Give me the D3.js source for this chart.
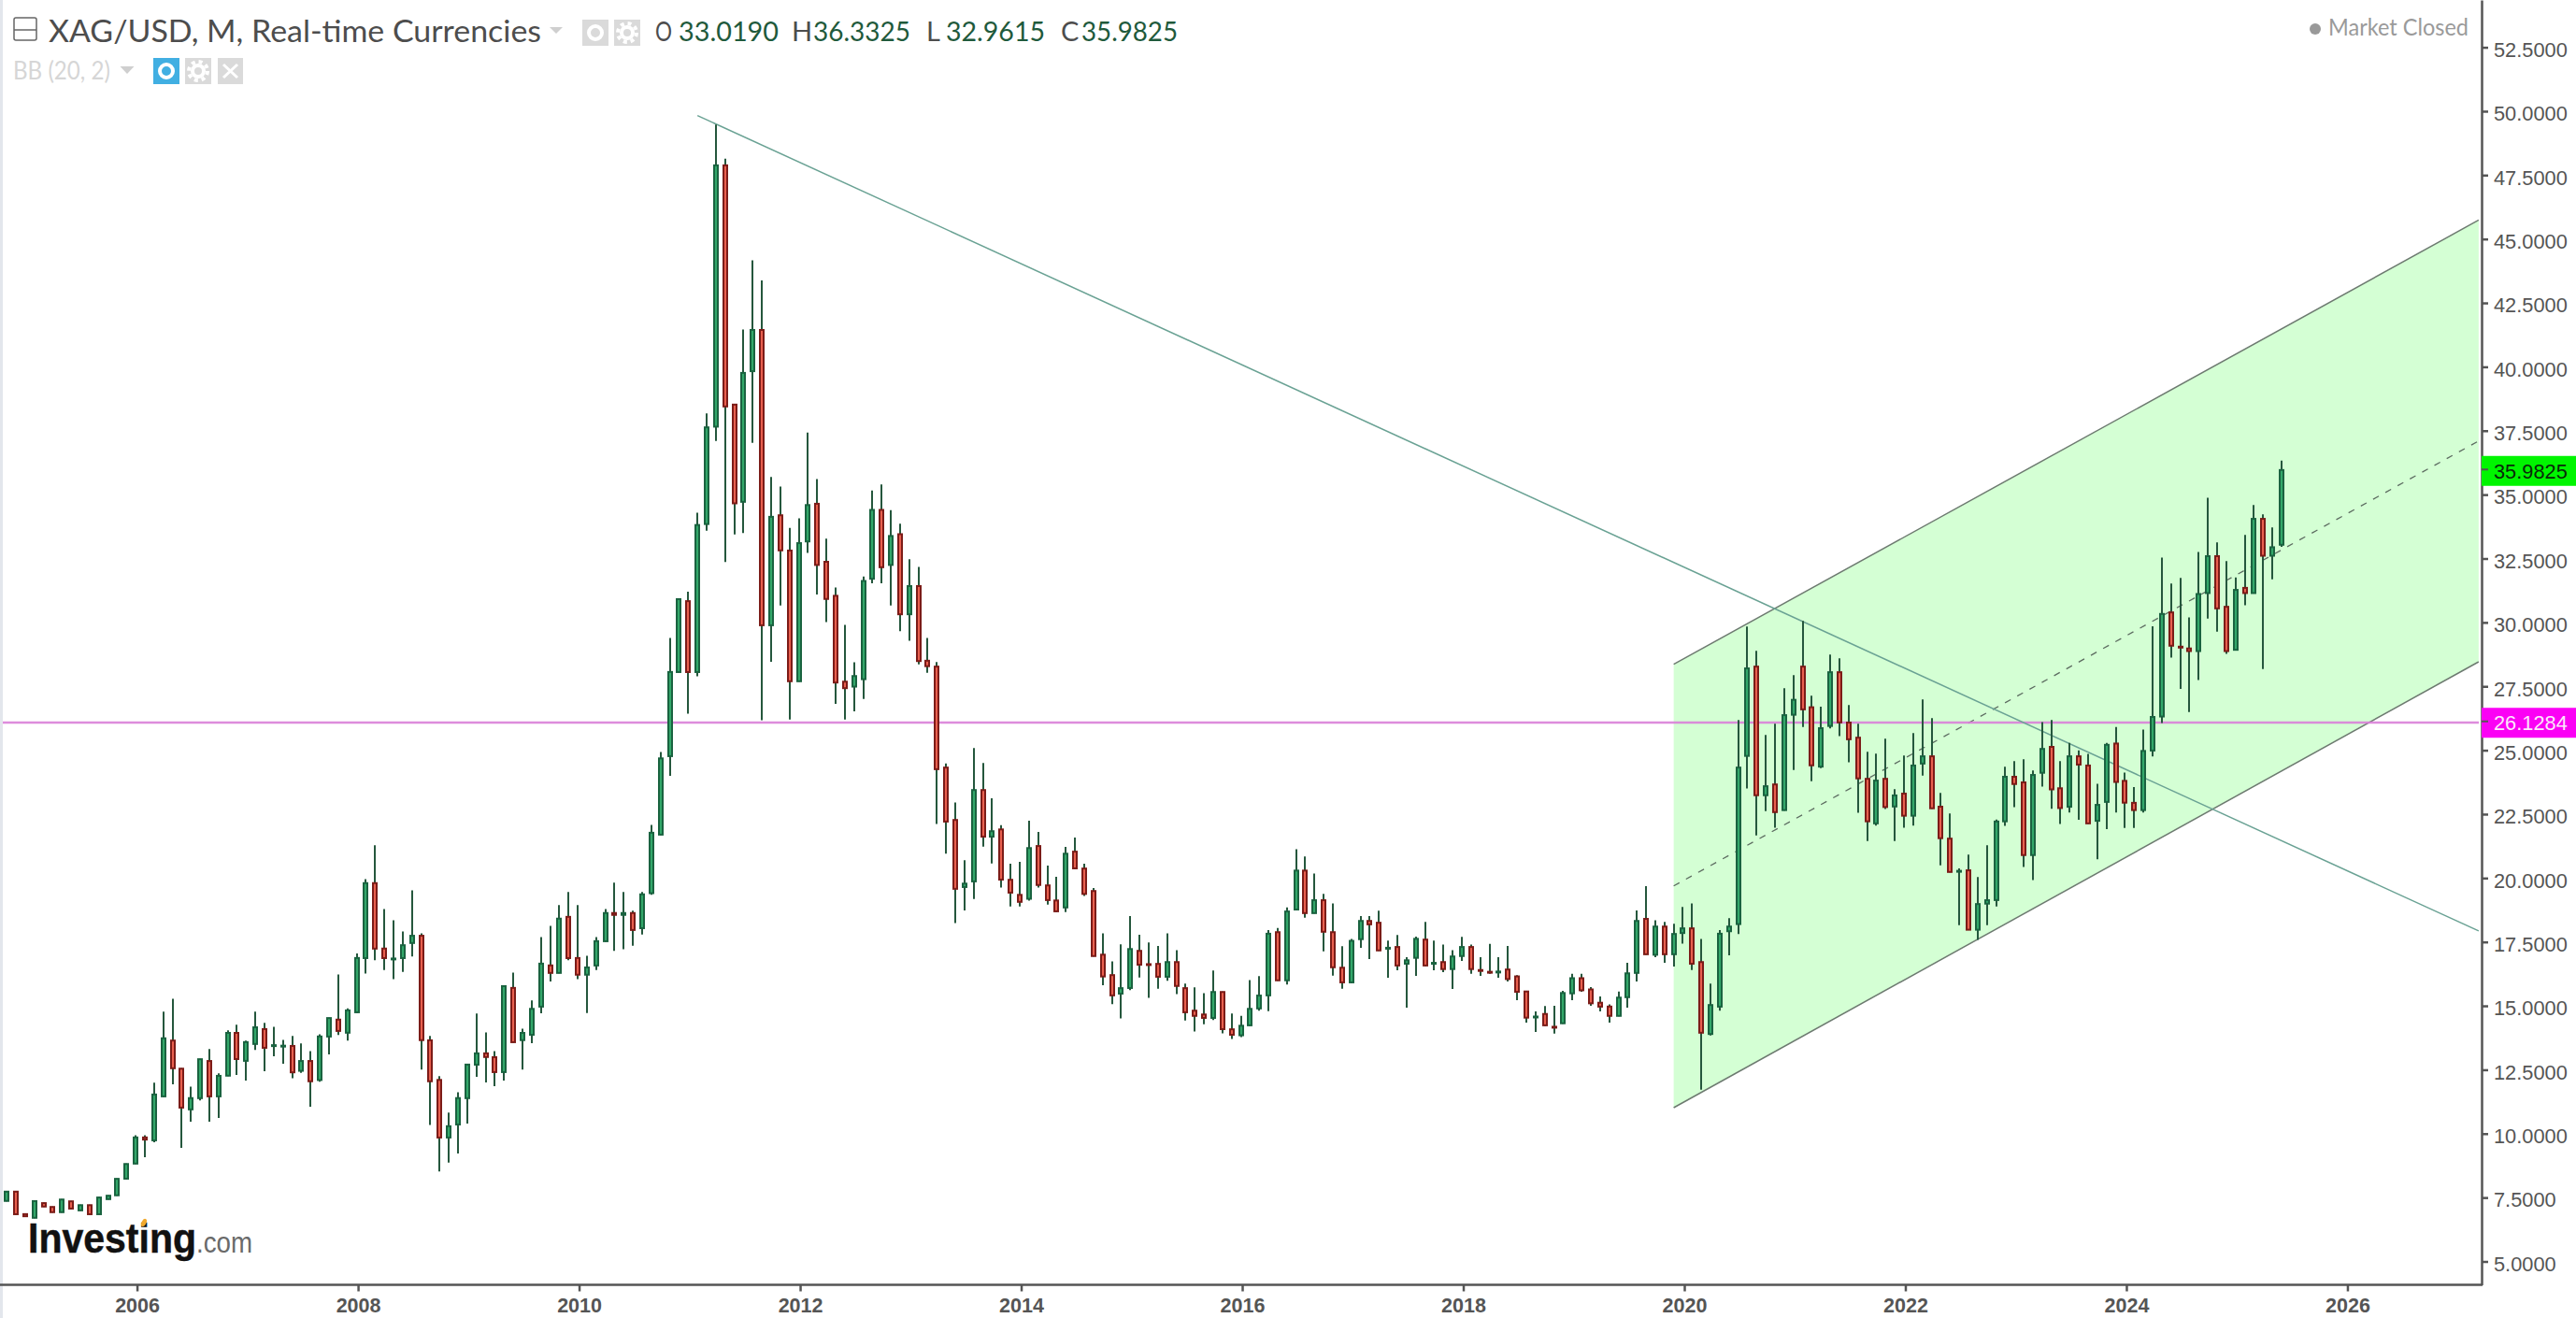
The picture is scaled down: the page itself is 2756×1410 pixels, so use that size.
<!DOCTYPE html>
<html>
<head>
<meta charset="utf-8">
<title>XAG/USD</title>
<script src="https://cdnjs.cloudflare.com/ajax/libs/d3/7.8.5/d3.min.js"></script>
<style>
  html, body { margin: 0; padding: 0; background: #fff; overflow: hidden; }
  svg { display: block; }
</style>
</head>
<body>
<div id="svganchor"></div>
<script>
// monthly candles, first one is Nov 2004. month index 0 = Jan 2006
const firstMonth = -14;

const opens = [
  7.35,7.75,
  6.87,6.69,7.30,7.15,6.91,7.37,6.98,7.22,6.83,7.42,7.57,8.22,
  8.81,9.87,9.72,11.44,13.66,12.56,10.93,11.37,12.86,11.44,12.25,13.96,
  12.83,13.49,14.11,13.43,13.39,13.45,12.44,12.86,12.08,13.78,14.48,13.93,
  14.73,16.85,19.82,17.26,16.85,16.85,17.44,17.76,13.67,12.12,9.83,10.34,
  11.37,12.68,13.16,13.01,12.39,15.72,13.64,13.85,14.95,16.6,16.27,18.5,
  16.89,16.2,16.56,17.51,18.65,18.54,18.65,18.02,19.39,21.68,24.75,28.04,
  30.85,28.04,33.83,37.64,47.9,38.54,34.7,39.81,41.46,29.87,34.21,32.83,
  27.68,33.15,34.66,32.39,31.06,27.7,27.47,27.76,31.69,34.42,32.23,33.47,
  30.3,31.44,28.52,28.29,24.34,22.29,19.63,19.85,23.46,21.6,21.92,19.95,
  19.36,19.17,21.27,19.73,19.14,18.83,21.05,20.39,19.51,17.02,16.22,15.46,
  15.68,17.17,16.65,16.66,16.12,16.73,15.71,14.83,14.68,14.51,15.56,14.1,
  13.83,14.22,14.88,15.39,17.9,15.98,18.75,20.31,18.61,19.15,17.9,16.51,
  15.9,17.59,18.34,18.27,17.25,17.32,16.63,16.86,17.61,16.66,16.73,16.42,
  16.93,17.32,16.42,16.35,16.33,16.44,16.17,15.58,14.57,14.7,14.2,14.3,
  15.47,16.1,15.66,15.14,14.99,14.59,15.32,16.27,18.42,16.98,18.12,17.0,
  17.83,18.05,16.73,13.88,14.95,17.9,18.18,24.76,28.29,23.22,23.68,22.64,
  26.37,28.29,26.7,24.34,25.93,28.07,26.1,25.51,23.9,22.12,23.9,22.78,
  23.32,22.42,24.46,24.78,22.81,21.56,20.26,20.32,17.96,18.98,19.12,22.2,
  23.98,23.76,20.88,24.1,25.15,23.53,22.77,24.78,24.42,22.22,22.96,25.28,
  23.82,22.96,22.64,24.97,26.3,30.41,29.07,29.0,28.86,31.13,32.61,30.63,
  28.91,31.37,31.13,34.07,32.59,33.02
];

const closes = [
  7.75,6.83,
  6.75,7.38,7.13,6.91,7.44,7.05,7.22,6.83,7.52,7.59,8.25,8.83,
  9.87,9.75,11.55,13.75,12.54,11.0,11.41,12.93,11.44,12.28,13.96,12.9,
  13.6,14.18,13.34,13.48,13.46,12.38,12.86,12.03,13.82,14.54,14.0,14.84,
  16.89,19.82,17.22,16.85,16.87,17.39,17.76,13.64,12.03,9.83,10.31,11.41,
  12.72,13.16,12.98,12.39,15.79,13.56,13.96,14.9,16.67,16.27,18.43,16.85,
  16.2,16.52,17.55,18.65,18.54,18.65,17.95,19.38,21.79,24.7,28.08,30.93,
  28.04,33.83,37.65,47.9,38.43,34.64,39.78,41.46,29.87,34.15,32.8,27.68,
  33.12,34.61,32.23,30.9,27.63,27.41,27.92,31.64,34.42,32.14,33.4,30.3,
  31.44,28.47,28.27,24.24,22.19,19.56,19.8,23.46,21.6,21.85,19.92,19.41,
  19.05,21.19,19.71,19.12,18.68,20.97,20.36,19.36,16.93,16.13,15.39,15.71,
  17.24,16.59,16.62,16.12,16.73,15.76,14.73,14.59,14.51,15.56,14.07,13.85,
  14.24,14.9,15.42,17.84,15.98,18.71,20.31,18.61,19.15,17.88,16.49,15.9,
  17.56,18.34,18.17,17.15,17.29,16.56,16.8,17.64,16.56,16.7,16.42,16.95,
  17.32,16.42,16.35,16.3,16.36,16.03,15.53,14.52,14.6,14.22,14.15,15.52,
  16.1,15.59,15.08,14.95,14.59,15.34,16.29,18.34,17.0,18.12,17.0,17.83,
  18.05,16.63,13.93,15.05,17.84,18.12,24.34,28.22,23.22,23.61,22.56,26.39,
  26.99,26.58,24.39,25.88,28.07,26.07,25.41,23.88,22.2,23.83,22.76,23.25,
  22.42,24.42,24.78,22.71,21.54,20.22,20.3,17.96,19.0,19.15,22.23,23.98,
  23.66,20.88,24.05,25.07,23.45,22.72,24.78,24.42,22.12,22.88,25.23,23.74,
  22.93,22.64,24.99,26.32,30.35,29.07,29.0,28.86,31.13,32.61,30.53,28.86,
  31.29,31.13,34.07,32.59,32.96,35.98
];

const highs = [
  7.75,7.75,
  6.87,7.38,7.30,7.15,7.44,7.37,7.22,7.22,7.52,7.59,8.25,8.83,
  9.94,9.94,11.99,14.77,15.28,12.56,11.84,12.93,13.31,12.36,14.04,14.26,
  13.64,14.77,14.33,14.18,13.67,13.82,13.53,13.23,13.89,14.54,16.23,14.9,
  17.05,19.96,21.28,18.79,18.35,17.91,19.52,17.84,13.82,12.25,10.82,11.62,
  12.72,14.70,13.96,13.23,15.79,16.3,14.11,15.21,17.69,18.13,18.94,19.45,
  18.94,16.96,17.69,18.79,19.82,19.45,18.72,19.45,22.08,24.93,29.39,30.93,
  31.2,34.29,38.18,49.48,48.14,38.54,41.46,44.17,43.38,35.69,35.32,33.7,
  34.07,37.43,35.61,33.28,31.37,29.9,28.44,31.8,35.16,35.4,34.39,33.86,
  32.47,32.17,29.39,28.45,24.48,22.96,20.7,25.09,24.5,23.12,22.07,20.56,
  20.63,22.24,21.8,20.49,20.05,21.22,21.58,20.56,19.61,17.84,16.74,17.41,
  18.51,17.78,17.48,17.34,17.84,17.18,15.87,15.72,15.5,16.38,15.56,14.7,
  14.61,16.01,16.16,17.96,18.05,18.85,21.13,20.84,20.18,19.38,19.01,17.33,
  17.62,18.51,18.51,18.72,17.55,17.77,16.9,17.71,18.28,17.55,17.4,17.18,
  17.7,17.4,16.9,17.42,16.9,17.34,16.2,15.58,14.78,14.99,15.0,15.59,
  16.25,16.25,15.73,15.37,15.06,15.56,16.68,18.73,19.68,18.35,18.28,18.21,
  18.87,19.01,17.62,15.87,17.96,18.43,26.18,29.84,28.89,25.6,26.04,27.43,
  27.94,30.06,27.13,26.7,28.74,28.6,26.77,26.04,24.94,24.87,25.45,23.48,
  24.79,25.67,26.99,26.26,23.33,22.53,20.38,20.92,20.04,21.28,22.29,24.35,
  24.57,24.65,24.21,26.1,26.18,24.57,25.29,24.99,24.86,23.69,25.29,25.91,
  24.13,23.56,25.81,29.85,32.54,31.52,31.74,30.2,32.76,34.88,33.13,32.4,
  31.76,33.42,34.59,34.23,33.72,36.33
];

const lows = [
  7.35,6.83,
  6.75,6.69,7.13,6.91,6.91,7.05,6.98,6.83,6.83,7.42,7.57,8.22,
  8.81,9.08,9.66,11.44,11.93,9.44,10.47,11.30,10.47,10.61,12.25,12.3,
  12.08,13.27,12.44,13.03,12.73,12.17,12.38,11.05,12.03,13.1,13.86,13.64,
  14.73,16.26,16.78,16.4,16.04,16.33,16.93,12.51,10.34,8.52,8.87,9.22,
  10.39,12.22,12.0,11.86,12.08,13.56,12.51,13.54,14.71,15.95,16.27,16.78,
  16.04,14.72,16.4,17.51,17.15,17.21,17.35,17.79,19.34,21.68,24.0,28.04,
  26.43,27.89,33.59,37.1,32.36,33.44,33.5,37.03,26.17,28.46,30.66,26.2,
  27.68,32.72,31.09,30.01,26.81,26.2,26.52,27.01,31.53,31.53,30.66,29.66,
  29.28,28.36,28.03,22.11,20.95,18.24,18.73,19.18,21.23,20.57,19.63,18.89,
  18.89,19.12,19.63,18.96,18.68,18.67,20.36,19.3,16.93,15.81,15.07,14.51,
  15.61,16.11,15.31,15.67,15.98,15.46,14.43,14.0,14.28,14.44,13.92,13.7,
  13.78,14.22,14.81,14.79,15.98,15.83,18.75,18.45,18.61,17.13,16.18,15.67,
  15.9,17.27,16.83,17.15,16.1,16.39,14.93,16.17,16.56,16.39,16.32,15.66,
  16.76,16.25,16.17,16.25,16.1,15.95,15.22,14.34,13.98,14.22,13.91,14.3,
  15.22,15.55,15.0,14.78,14.34,14.59,14.93,15.95,17.0,16.9,16.68,16.54,
  17.43,16.4,11.72,13.84,14.81,16.98,17.81,23.5,21.67,22.62,21.97,22.64,
  24.23,25.91,23.79,24.3,25.85,25.55,24.53,22.55,21.45,22.05,22.7,21.45,
  21.97,22.05,24.01,22.71,20.5,20.22,18.16,17.96,17.58,18.16,18.89,22.04,
  22.77,20.43,19.92,23.58,22.71,22.11,22.56,22.28,22.12,20.73,21.91,22.56,
  21.96,21.96,22.56,24.76,26.06,28.62,27.4,26.49,27.75,30.15,29.64,28.77,
  28.91,30.67,31.13,28.18,31.69,32.96
];

const yTicks = [5,7.5,10,12.5,15,17.5,20,22.5,25,27.5,30,32.5,35,37.5,40,42.5,45,47.5,50,52.5];
const xTicks = [0,24,48,72,96,120,144,168,192,216,240]; // months since 2006

const lastPrice = 35.9825;
const levelPrice = 26.1284;

// drawn lines: month index and price at both ends
const channelMonths = [167, 254.4];
const channelTop = [28.36, 45.74];
const channelMid = [19.69, 37.10];
const channelBottom = [11.015, 28.46];
const trendMonths = [61, 254.4];
const trendPrices = [49.83, 17.93];

const width = 2756;
const height = 1410;
const axisRight = 2655;
const axisBottom = 1374.5;
const axisColor = "#555555";

let svg = d3.select("#svganchor").append("svg").attr("width", width).attr("height", height);

let x = d3.scaleLinear().domain([-14.42, 254.72]).range([3, axisRight]);
let y = d3.scaleLinear().domain([4.086, 54.35]).range([axisBottom, 0]);

let candles = opens.map(function (o, i) {
  return { month: firstMonth + i, open: o, high: highs[i], low: lows[i], close: closes[i] };
});

svg.append("rect").attr("x", 0).attr("y", 0).attr("width", 3).attr("height", height).attr("fill", "#e3e6ec");

// price channel
let channelArea = d3.line().x(function (d) { return x(d[0]); }).y(function (d) { return y(d[1]); });

svg.append("path")
  .attr("d", channelArea([
    [channelMonths[0], channelTop[0]],
    [channelMonths[1], channelTop[1]],
    [channelMonths[1], channelBottom[1]],
    [channelMonths[0], channelBottom[0]]
  ]) + "Z")
  .attr("fill", "#d4ffd4");

[channelTop, channelBottom].forEach(function (prices) {
  svg.append("path")
    .attr("d", channelArea([[channelMonths[0], prices[0]], [channelMonths[1], prices[1]]]))
    .attr("fill", "none")
    .attr("stroke", "#6d7a70")
    .attr("stroke-width", 1.5);
});

svg.append("path")
  .attr("d", channelArea([[channelMonths[0], channelMid[0]], [channelMonths[1], channelMid[1]]]))
  .attr("fill", "none")
  .attr("stroke", "#5c6b60")
  .attr("stroke-width", 1.3)
  .attr("stroke-dasharray", "7,8");

// horizontal level
svg.append("line")
  .attr("x1", 3)
  .attr("x2", axisRight - 3)
  .attr("y1", y(levelPrice) + 1.3)
  .attr("y2", y(levelPrice) + 1.3)
  .attr("stroke", "#d97fd8")
  .attr("stroke-opacity", 0.9)
  .attr("stroke-width", 2.6);

// long falling trend line
svg.append("path")
  .attr("d", channelArea([[trendMonths[0], trendPrices[0]], [trendMonths[1], trendPrices[1]]]))
  .attr("fill", "none")
  .attr("stroke", "#6aa294")
  .attr("stroke-width", 1.5);

// candles
let candle = svg.selectAll(".candle").data(candles).enter().append("g").attr("class", "candle");

candle.append("line")
  .attr("x1", function (d) { return Math.round(x(d.month)); })
  .attr("x2", function (d) { return Math.round(x(d.month)); })
  .attr("y1", function (d) { return y(d.high); })
  .attr("y2", function (d) { return y(d.low); })
  .attr("stroke", "#25573d")
  .attr("stroke-width", 2);

candle.append("rect")
  .attr("x", function (d) { return Math.round(x(d.month)) - 2; })
  .attr("width", 4)
  .attr("y", function (d) { return y(Math.max(d.open, d.close)) + 0.5; })
  .attr("height", function (d) { return Math.max(Math.abs(y(d.open) - y(d.close)) - 1, 1); })
  .attr("fill", function (d) { return d.close >= d.open ? "#33a86a" : "#e9604f"; })
  .attr("stroke", function (d) { return d.close >= d.open ? "#1a6340" : "#7c1c18"; })
  .attr("stroke-width", 2);

// axes
let xAxis = d3.axisBottom(x)
  .tickValues(xTicks)
  .tickFormat(function (d) { return 2006 + d / 12; })
  .tickSize(7)
  .tickSizeOuter(0)
  .tickPadding(7.5);

let xAxisG = svg.append("g")
  .attr("transform", "translate(1.5," + axisBottom + ")")
  .call(xAxis);

xAxisG.selectAll("text")
  .attr("font-family", "'Liberation Sans', Arial, sans-serif")
  .attr("font-weight", "bold")
  .attr("font-size", 21.5)
  .attr("fill", axisColor);

let yAxis = d3.axisRight(y)
  .tickValues(yTicks)
  .tickFormat(d3.format(".4f"))
  .tickSize(7)
  .tickSizeOuter(0)
  .tickPadding(6);

let yAxisG = svg.append("g")
  .attr("transform", "translate(" + axisRight + ",0)")
  .call(yAxis);

yAxisG.selectAll("text")
  .attr("dy", "0.45em")
  .attr("font-family", "'Liberation Sans', Arial, sans-serif")
  .attr("font-size", 21.8)
  .attr("fill", axisColor);

svg.selectAll(".domain, .tick line")
  .attr("stroke", axisColor)
  .attr("stroke-width", 2.5);

xAxisG.select(".domain").attr("d", "M-1.5,0H" + (axisRight - 0.5));

// price tags on the axis
function priceTag(value, fill, textColor) {
  let cy = y(value) + 1.5;
  svg.append("rect")
    .attr("x", axisRight)
    .attr("y", cy - 16)
    .attr("width", width - axisRight)
    .attr("height", 32)
    .attr("fill", fill);
  svg.append("line")
    .attr("x1", axisRight)
    .attr("x2", axisRight + 7)
    .attr("y1", y(value))
    .attr("y2", y(value))
    .attr("stroke", axisColor)
    .attr("stroke-width", 2);
  svg.append("text")
    .attr("x", axisRight + 13)
    .attr("y", cy + 8)
    .attr("font-family", "'Liberation Sans', Arial, sans-serif")
    .attr("font-size", 21.8)
    .attr("fill", textColor)
    .text(d3.format(".4f")(value));
}
priceTag(lastPrice, "#00f500", "#0a2a0a");
priceTag(levelPrice, "#fb00f5", "#fbe6fb");

// header
const headerFont = "Lato, 'Open Sans', sans-serif";

function label(txt, px, py, size, color, length) {
  let t = svg.append("text")
    .attr("x", px)
    .attr("y", py)
    .attr("font-family", headerFont)
    .attr("font-size", size)
    .attr("fill", color)
    .text(txt);
  if (length) t.attr("textLength", length).attr("lengthAdjust", "spacingAndGlyphs");
  return t;
}

svg.append("rect").attr("x", 15).attr("y", 19).attr("width", 24).attr("height", 24)
  .attr("rx", 2).attr("fill", "none").attr("stroke", "#666").attr("stroke-width", 1.5);
svg.append("line").attr("x1", 15).attr("x2", 39).attr("y1", 32).attr("y2", 32)
  .attr("stroke", "#666").attr("stroke-width", 1.5);

label("XAG/USD, M, Real-time Currencies", 52, 45, 33, "#4d4d4d", 527);

function triangle(cx, cy, w, h, color) {
  svg.append("path")
    .attr("d", "M" + (cx - w / 2) + "," + cy + "h" + w + "l" + (-w / 2) + "," + h + "Z")
    .attr("fill", color);
}
triangle(595, 29, 14, 7, "#cfcfcf");

function eyeButton(bx, by, w, h, fill) {
  svg.append("rect").attr("x", bx).attr("y", by).attr("width", w).attr("height", h).attr("fill", fill);
  svg.append("circle").attr("cx", bx + w / 2).attr("cy", by + h / 2).attr("r", 7)
    .attr("fill", "none").attr("stroke", "#fff").attr("stroke-width", 4);
}
function gearButton(bx, by, w, h) {
  svg.append("rect").attr("x", bx).attr("y", by).attr("width", w).attr("height", h).attr("fill", "#dadada");
  svg.append("circle").attr("cx", bx + w / 2).attr("cy", by + h / 2).attr("r", 6)
    .attr("fill", "none").attr("stroke", "#fff").attr("stroke-width", 4);
  svg.append("circle").attr("cx", bx + w / 2).attr("cy", by + h / 2).attr("r", 10)
    .attr("fill", "none").attr("stroke", "#fff").attr("stroke-width", 4).attr("stroke-dasharray", "4,3.9");
}

eyeButton(623, 21, 28, 28, "#dadada");
gearButton(657, 21, 28, 28);

const valueColor = "#1f5a3c";
label("O", 701, 44, 29, "#4d4d4d", 18);
label("33.0190", 726, 44, 29, valueColor, 107);
label("H", 847, 44, 29, "#4d4d4d");
label("36.3325", 870, 44, 29, valueColor, 104);
label("L", 991, 44, 29, "#4d4d4d");
label("32.9615", 1012, 44, 29, valueColor, 106);
label("C", 1135, 44, 29, "#4d4d4d");
label("35.9825", 1157, 44, 29, valueColor, 103);

label("BB (20, 2)", 14, 85, 26, "#d6d6d6", 104);
triangle(136, 71, 15, 8, "#cfcfcf");
eyeButton(164, 62, 28, 28, "#41afe2");
gearButton(198, 62, 28, 28);
svg.append("rect").attr("x", 233).attr("y", 62).attr("width", 27).attr("height", 28).attr("fill", "#dadada");
svg.append("path").attr("d", "M239,69L254,83M254,69L239,83").attr("stroke", "#fff").attr("stroke-width", 3).attr("fill", "none");

svg.append("circle").attr("cx", 2477).attr("cy", 31).attr("r", 6).attr("fill", "#999");
label("Market Closed", 2491, 38, 25, "#9a9a9a", 150);

// logo
svg.append("text")
  .attr("x", 30).attr("y", 1340)
  .attr("font-family", "'Liberation Sans', Arial, sans-serif")
  .attr("font-weight", "bold")
  .attr("font-size", 44)
  .attr("fill", "#111")
  .attr("stroke", "#111")
  .attr("stroke-width", 0.5)
  .attr("textLength", 180)
  .attr("lengthAdjust", "spacingAndGlyphs")
  .text("Investing");
svg.append("text")
  .attr("x", 210).attr("y", 1340)
  .attr("font-family", "'Liberation Sans', Arial, sans-serif")
  .attr("font-size", 32)
  .attr("fill", "#6a6a6a")
  .attr("textLength", 60)
  .attr("lengthAdjust", "spacingAndGlyphs")
  .text(".com");
svg.append("ellipse")
  .attr("cx", 154).attr("cy", 1308).attr("rx", 2.5).attr("ry", 4.5)
  .attr("transform", "rotate(25 154 1308)")
  .attr("fill", "#f0a92e");
</script>
</body>
</html>
